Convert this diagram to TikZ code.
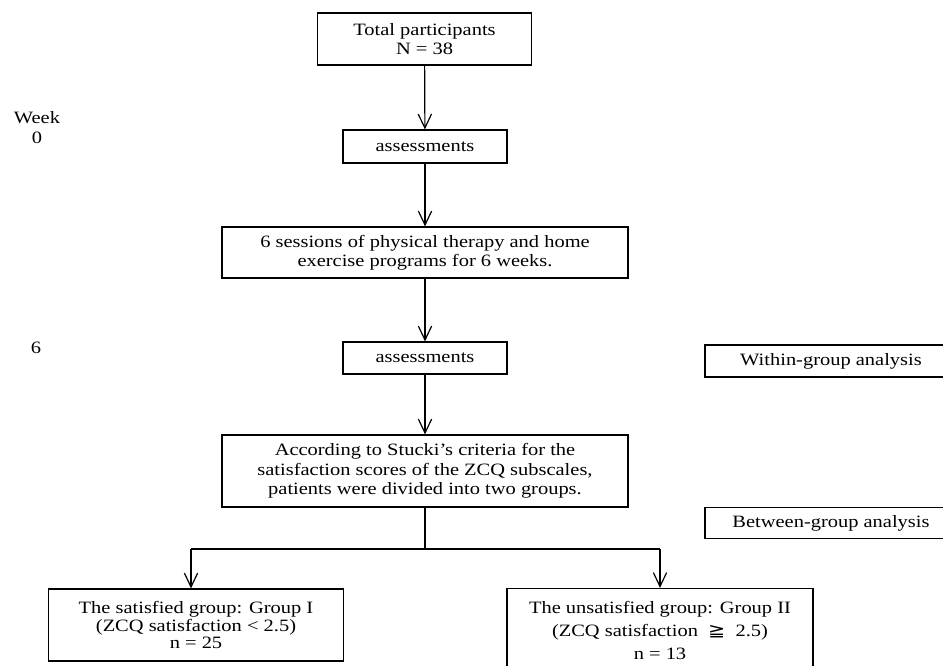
\documentclass[tikz,border=0pt]{standalone}
\usepackage{fontspec}
\setmainfont{Liberation Serif}[FakeStretch=1.18]
\newfontfamily\symfont{DejaVu Sans}[FakeStretch=1.18]
\usepackage{tikz}
\usetikzlibrary{arrows.meta}

\begin{document}
\begin{tikzpicture}[x=0.75pt,y=-0.75pt,>={Straight Barb[length=10.5pt,width=10pt]},
    box/.style={draw,line width=0.9pt,align=center,inner sep=2pt},
    flow/.style={->,line width=0.9pt},
    every node/.style={font=\fontsize{13}{14.5}\selectfont}]
        % fix the page to the size of the reference
        \useasboundingbox (0,0) rectangle (943,665);

        % week labels on the left
        \node (week0) at (37,128) [align=center,font=\fontsize{13}{15}\selectfont] {Week\\0};
        \node (week6) at (36,348) {6};

        % the main column of boxes
        \node[box,minimum width=161pt,minimum height=39pt] (total) at (424.5,39) {Total participants\\N = 38};
        \node[box,minimum width=123pt,minimum height=24.75pt] (assess0) at (425,146.5) {assessments};
        \node[box,minimum width=304.5pt,minimum height=38.25pt] (sessions) at (425,252.5)
            {6 sessions of physical therapy and home\\exercise programs for 6 weeks.};
        \node[box,minimum width=123pt,minimum height=24pt] (assess6) at (425,358) {assessments};
        \node[box,minimum width=304.5pt,minimum height=54pt] (stucki) at (425,471)
            {According to Stucki's criteria for the\\satisfaction scores of the ZCQ subscales,\\patients were divided into two groups.};

        % the analysis boxes on the right
        \node[box,minimum width=189pt,minimum height=24pt] (within) at (831,361) {Within-group analysis};
        \node[box,minimum width=189pt,minimum height=23.25pt] (between) at (831,523) {Between-group analysis};

        % the two groups
        \node[box,minimum width=221pt,minimum height=54pt,font=\fontsize{13}{13.2}\selectfont] (group1) at (196,625)
            {The satisfied group: Group I\\(ZCQ satisfaction < 2.5)\\n = 25};
        \node[box,minimum width=229.5pt,minimum height=63pt,font=\fontsize{13}{17.5}\selectfont] (group2) at (660,630.5)
            {The unsatisfied group: Group II\\(ZCQ satisfaction \ {\symfont ≧} \ 2.5)\\n = 13};

        % draw the arrows
        \draw[flow] (total) -- (assess0);
        \draw[flow] (assess0) -- (sessions);
        \draw[flow] (sessions) -- (assess6);
        \draw[flow] (assess6) -- (stucki);

        % split into the two groups
        \coordinate (split) at (425,549);
        \coordinate (splitl) at (191,549);
        \coordinate (splitr) at (660,549);
        \draw[line width=0.9pt] (stucki) -- (split);
        \draw[line width=0.9pt] (splitl) -- (splitr);
        \draw[flow] (splitl) -- (splitl |- group1.north);
        \draw[flow] (splitr) -- (splitr |- group2.north);
\end{tikzpicture}
\end{document}
